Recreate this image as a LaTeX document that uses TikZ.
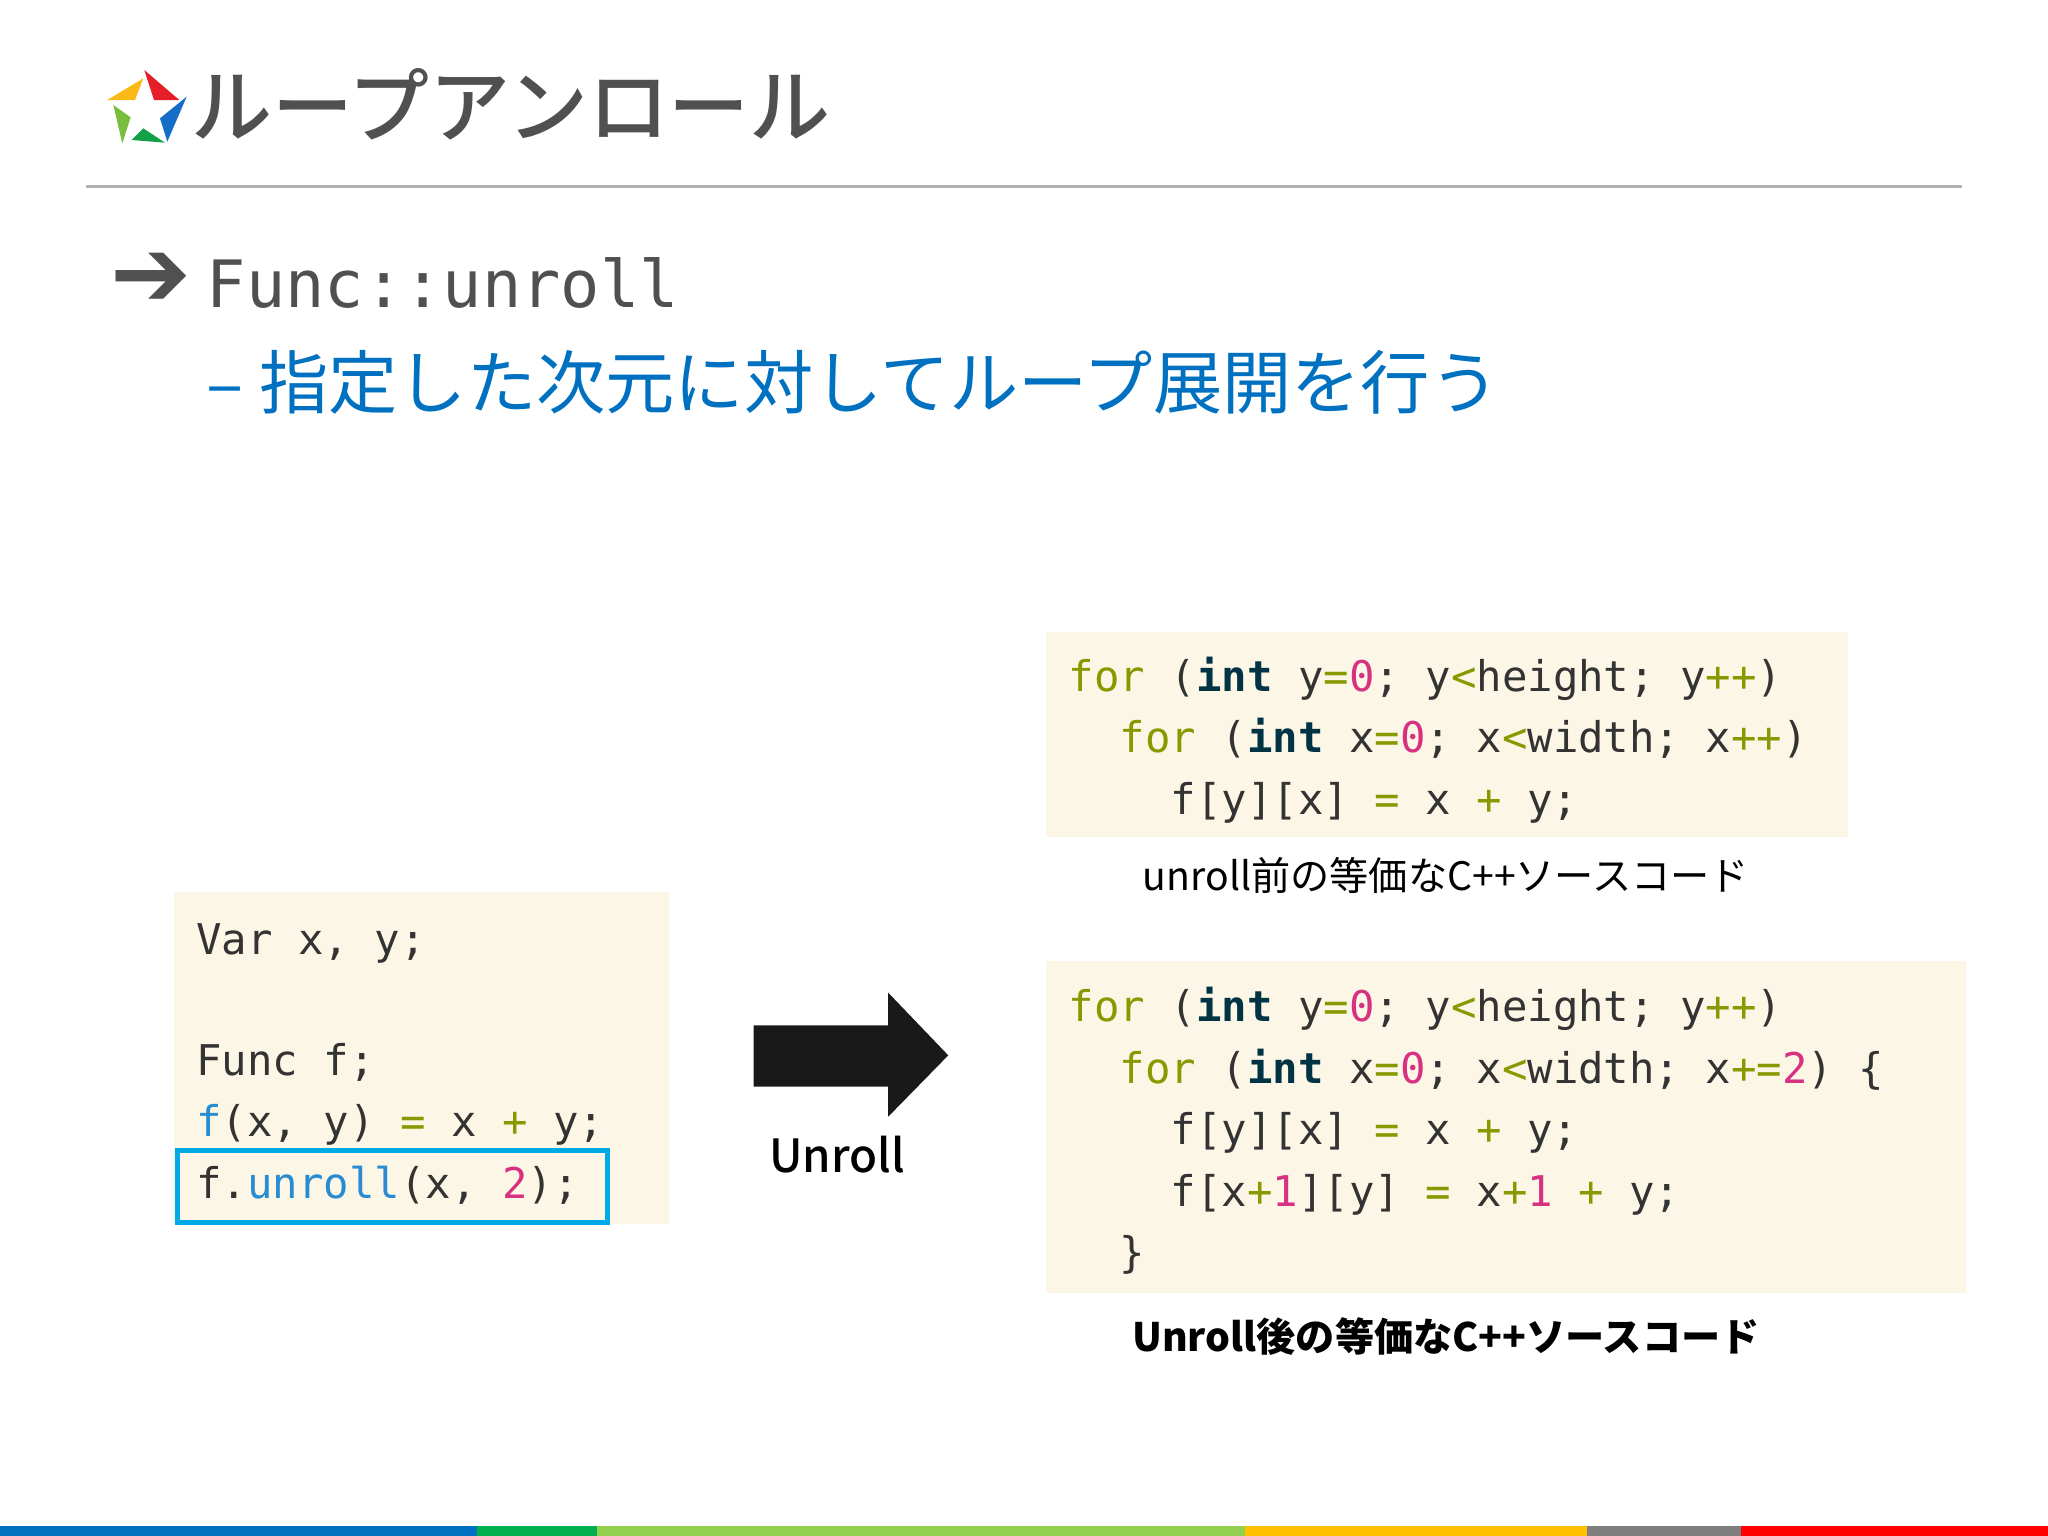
\documentclass[tikz,border=0pt]{standalone}
\usepackage{fontspec}
\setmainfont{Noto Sans CJK JP}
\setmonofont{DejaVu Sans Mono}
\newfontfamily\jp{Noto Sans CJK JP}
\newfontfamily\jpmed{Noto Sans CJK JP Medium}
\newfontfamily\arrowfont{DejaVu Sans}
\definecolor{bgc}{RGB}{252,246,230}
\definecolor{txc}{RGB}{51,51,51}
\definecolor{olc}{RGB}{134,154,0}
\definecolor{kwc}{RGB}{0,51,68}
\definecolor{nmc}{RGB}{215,50,130}
\definecolor{fnc}{RGB}{40,140,210}
\definecolor{ttl}{RGB}{80,80,80}
\definecolor{subc}{RGB}{0,112,192}
\definecolor{hlc}{RGB}{0,170,230}
\definecolor{bar2}{RGB}{0,176,80}
\definecolor{bar3}{RGB}{146,208,80}
\definecolor{bar4}{RGB}{255,192,0}
\definecolor{bar5}{RGB}{127,127,127}
\definecolor{bar6}{RGB}{255,0,0}
\definecolor{lgR}{RGB}{230,30,40}
\definecolor{lgY}{RGB}{250,185,20}
\definecolor{lgLG}{RGB}{120,190,60}
\definecolor{lgG}{RGB}{20,160,70}
\definecolor{lgB}{RGB}{20,110,200}
\newcommand\cOl[1]{\textcolor{olc}{#1}}
\newcommand\cKw[1]{\textcolor{kwc}{\bfseries #1}}
\newcommand\cNm[1]{\textcolor{nmc}{#1}}
\newcommand\cFn[1]{\textcolor{fnc}{#1}}
\begin{document}
\begin{tikzpicture}[x=0.5pt,y=-0.5pt,
  codeln/.style={anchor=mid west,inner sep=0,font=\fontsize{16.2}{20}\ttfamily,text=txc},
  codebox/.style={fill=bgc,draw=none},
  captxt/.style={font=\fontsize{15}{18}\jp,text=black}]
\useasboundingbox (0,0) rectangle (1568,1176);
\fill[white] (0,0) rectangle (1568,1176);
% logo
\begin{scope}[shift={(68.9,38.3)},scale=0.2552]
\fill[lgR] (163,60) -- (268,150) -- (192,150) -- cycle;
\fill[lgY] (160,85) -- (52,150) -- (135,150) -- cycle;
\fill[lgLG] (70,165) -- (122,202) -- (97,280) -- cycle;
\fill[lgG] (125,270) -- (160,235) -- (225,278) -- cycle;
\fill[lgB] (290,140) -- (210,205) -- (232,275) -- cycle;
\end{scope}
\node[anchor=west,inner sep=0,font=\fontsize{31}{36}\jpmed,text=ttl] (title) at (146,80) {ループアンロール};
\draw[gray!60,line width=1] (66,143) -- (1502,143);
\node[anchor=west,inner sep=0,font=\fontsize{37}{40}\arrowfont\bfseries,text=ttl] (bul) at (84,214) {➔};
\node[anchor=west,inner sep=0,font=\fontsize{25}{30}\ttfamily,text=ttl] (func) at (158,217) {Func::unroll};
\node[anchor=west,inner sep=0,font=\fontsize{26.5}{32}\jp,text=subc] (sub) at (158,293) {– 指定した次元に対してループ展開を行う};
% boxes
\fill[codebox] (133,683) rectangle (512,937);
\fill[codebox] (801,484) rectangle (1415,641);
\fill[codebox] (801,736) rectangle (1505,990);
% left code
\node[codeln] (l1) at (150,725) {Var x, y;};
\node[codeln] (l2) at (150,818) {Func f;};
\node[codeln] (l3) at (150,865) {\cFn{f}(x, y) \cOl{=} x \cOl{+} y;};
\node[codeln] (l4) at (150,912) {f.\cFn{unroll}(x, \cNm{2});};
\draw[hlc,line width=2] (136,881) rectangle (465,936);
% top right
\node[codeln] (a1) at (818,524) {\cOl{for} (\cKw{int} y\cOl{=}\cNm{0}; y\cOl{<}height; y\cOl{++})};
\node[codeln] (a2) at (857,571) {\cOl{for} (\cKw{int} x\cOl{=}\cNm{0}; x\cOl{<}width; x\cOl{++})};
\node[codeln] (a3) at (896,618) {f[y][x] \cOl{=} x \cOl{+} y;};
\node[captxt] (capa) at (1107,670) {unroll前の等価なC++ソースコード};
% bottom right
\node[codeln] (b1) at (818,777) {\cOl{for} (\cKw{int} y\cOl{=}\cNm{0}; y\cOl{<}height; y\cOl{++})};
\node[codeln] (b2) at (857,824) {\cOl{for} (\cKw{int} x\cOl{=}\cNm{0}; x\cOl{<}width; x\cOl{+=}\cNm{2}) \{};
\node[codeln] (b3) at (896,871) {f[y][x] \cOl{=} x \cOl{+} y;};
\node[codeln] (b4) at (896,918) {f[x\cOl{+}\cNm{1}][y] \cOl{=} x\cOl{+}\cNm{1} \cOl{+} y;};
\node[codeln] (b5) at (857,965) {\}};
\node[captxt,font=\fontsize{15}{18}\jp\bfseries] (capb) at (1107,1023) {Unroll後の等価なC++ソースコード};
% big arrow
\fill[black!90] (577,785) -- (680,785) -- (680,760) -- (726,808) -- (680,855) -- (680,832) -- (577,832) -- cycle;
\node[font=\fontsize{17.5}{22}\jpmed,text=black] (unr) at (641,884) {Unroll};
% bottom bar
\fill[subc] (0,1168) rectangle (365,1176);
\fill[bar2] (365,1168) rectangle (457,1176);
\fill[bar3] (457,1168) rectangle (953,1176);
\fill[bar4] (953,1168) rectangle (1215,1176);
\fill[bar5] (1215,1168) rectangle (1333,1176);
\fill[bar6] (1333,1168) rectangle (1568,1176);
\end{tikzpicture}
\end{document}
